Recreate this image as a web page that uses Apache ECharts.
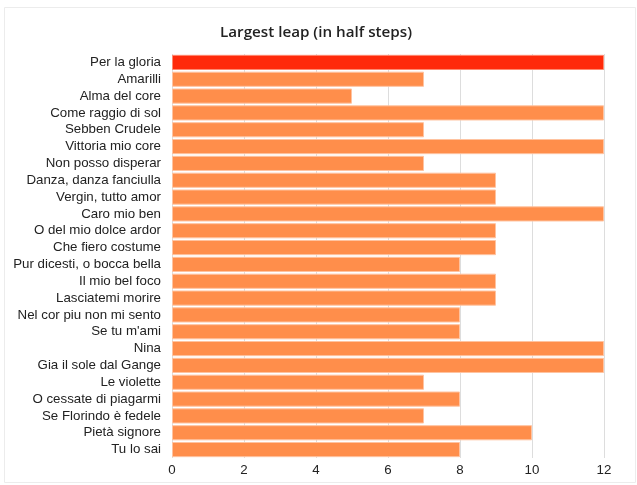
<!DOCTYPE html>
<html>
<head>
<meta charset="utf-8">
<script src="https://cdn.jsdelivr.net/npm/echarts@6/dist/echarts.min.js"></script>
<style>
  html, body { margin: 0; padding: 0; background: #fff; }
  #main { width: 637px; height: 485px; }
</style>
</head>
<body>
<div id="main"></div>
<script>
// song titles, top to bottom
const songs = [
  'Per la gloria', 'Amarilli', 'Alma del core', 'Come raggio di sol',
  'Sebben Crudele', 'Vittoria mio core', 'Non posso disperar',
  'Danza, danza fanciulla', 'Vergin, tutto amor', 'Caro mio ben',
  'O del mio dolce ardor', 'Che fiero costume', 'Pur dicesti, o bocca bella',
  'Il mio bel foco', 'Lasciatemi morire', 'Nel cor piu non mi sento',
  "Se tu m'ami", 'Nina', 'Gia il sole dal Gange', 'Le violette',
  'O cessate di piagarmi', 'Se Florindo è fedele', 'Pietà signore', 'Tu lo sai'
]
// largest leap in half steps
const leaps = [12, 7, 5, 12, 7, 12, 7, 9, 9, 12, 9, 9, 8, 9, 9, 8, 8, 12, 12, 7, 8, 7, 10, 8]
const highlight = 'Per la gloria'

const chart = echarts.init(document.getElementById('main'))
const option = {
  animation: false,
  backgroundColor: '#fff',
  title: {
    text: 'Largest leap (in half steps)',
    left: 311,
    top: 20,
    textAlign: 'center',
    textStyle: {
      fontFamily: 'Open Sans',
      fontSize: 15.2,
      fontWeight: 600,
      color: '#222'
    }
  },
  graphic: [
    {
      type: 'rect',
      shape: { x: 4.5, y: 7.5, width: 631, height: 475 },
      style: { fill: 'none', stroke: '#ececec', lineWidth: 1 },
      silent: true
    }
  ],
  grid: {
    left: 172,
    right: 33,
    top: 54,
    bottom: 27
  },
  xAxis: {
    type: 'value',
    min: 0,
    max: 12,
    interval: 2,
    axisLine: { show: false },
    axisTick: { show: false },
    axisLabel: {
      color: '#222',
      fontFamily: 'Liberation Sans',
      fontSize: 13.3,
      margin: 6
    },
    splitLine: { lineStyle: { color: '#dddddd', width: 1 } }
  },
  yAxis: {
    type: 'category',
    inverse: true,
    data: songs,
    axisLine: { show: false },
    axisTick: { show: false },
    axisLabel: {
      interval: 0,
      color: '#222',
      fontFamily: 'Liberation Sans',
      fontSize: 13.3,
      margin: 11
    },
    splitLine: { show: false }
  },
  series: [
    {
      type: 'bar',
      barCategoryGap: '10%',
      data: leaps.map((v, i) => ({
        value: v,
        itemStyle: {
          color: songs[i] === highlight ? '#ff2a0a' : '#ff8e4b',
          borderColor: songs[i] === highlight ? '#ff8a70' : '#ffc3a0',
          borderWidth: 1
        }
      }))
    }
  ]
}
chart.setOption(option)
</script>
</body>
</html>
